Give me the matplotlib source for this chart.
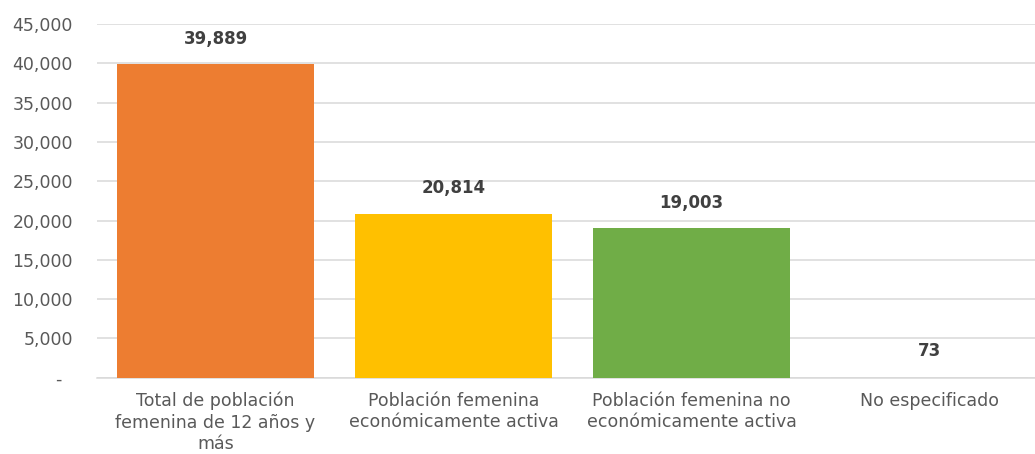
import matplotlib
matplotlib.use("Agg")
import matplotlib.pyplot as plt
from matplotlib.ticker import FixedLocator, FuncFormatter

categories = [
    "Total de población\nfemenina de 12 años y\nmás",
    "Población femenina\neconómicamente activa",
    "Población femenina no\neconómicamente activa",
    "No especificado",
]
values = [39889, 20814, 19003, 73]
bar_colors = ["#ED7D31", "#FFC000", "#70AD47", "#D9D9D9"]
y_ticks = [0, 5000, 10000, 15000, 20000, 25000, 30000, 35000, 40000, 45000]

plt.rcParams["font.family"] = ["DejaVu Sans"]

W, H = 1035, 454
fig = plt.figure(figsize=(W / 100, H / 100), dpi=100)
left, right = 96.5, 1048.5
top, bottom = 24.0, 377.7
ax = fig.add_axes([left / W, 1 - bottom / H, (right - left) / W, (bottom - top) / H])

x = range(len(categories))
bars = ax.bar(x, values, width=0.83, color=bar_colors, zorder=3)

ax.set_xlim(-0.5, len(categories) - 0.5)
ax.set_ylim(0, 45000)

ax.yaxis.set_major_locator(FixedLocator(y_ticks))
ax.yaxis.set_major_formatter(
    FuncFormatter(lambda v, _: "-  " if v == 0 else f"{int(v):,}")
)
ax.grid(axis="y", color="#D9D9D9", linewidth=1.1, zorder=0)
ax.set_axisbelow(True)

for s in ["top", "right", "left"]:
    ax.spines[s].set_visible(False)
ax.spines["bottom"].set_color("#D9D9D9")
ax.spines["bottom"].set_linewidth(1.1)

ax.set_xticks(list(x))
ax.set_xticklabels(categories, fontsize=12.5, color="#595959", linespacing=1.25)
ax.tick_params(axis="x", length=0, pad=10)
ax.tick_params(axis="y", length=0, pad=17, labelsize=12.5, labelcolor="#595959")

for rect, v in zip(bars, values):
    ax.annotate(
        f"{v:,}",
        xy=(rect.get_x() + rect.get_width() / 2, v),
        xytext=(0, 12),
        textcoords="offset points",
        ha="center",
        va="bottom",
        fontsize=12,
        fontweight="bold",
        color="#404040",
    )

fig.savefig("out.png", dpi=100)
